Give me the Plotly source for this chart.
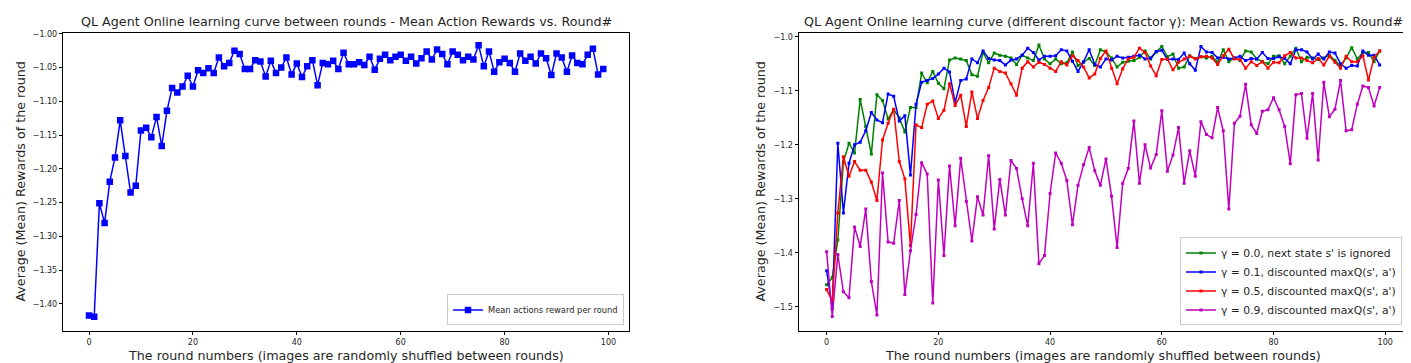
import plotly.graph_objects as go

rounds = list(range(100))

mean_reward = [
    -1.417, -1.419, -1.251, -1.280, -1.219, -1.183, -1.128, -1.181, -1.235, -1.225,
    -1.143, -1.139, -1.153, -1.123, -1.166, -1.114, -1.080, -1.087, -1.078, -1.062,
    -1.078, -1.054, -1.058, -1.051, -1.058, -1.035, -1.048, -1.043, -1.025, -1.030,
    -1.052, -1.052, -1.039, -1.041, -1.063, -1.040, -1.058, -1.050, -1.035, -1.060,
    -1.044, -1.064, -1.048, -1.039, -1.076, -1.043, -1.045, -1.040, -1.052, -1.028,
    -1.045, -1.045, -1.042, -1.046, -1.034, -1.053, -1.037, -1.031, -1.039, -1.034,
    -1.031, -1.040, -1.034, -1.044, -1.036, -1.026, -1.038, -1.023, -1.030, -1.045,
    -1.026, -1.031, -1.039, -1.034, -1.038, -1.017, -1.048, -1.026, -1.056, -1.042,
    -1.037, -1.043, -1.056, -1.029, -1.040, -1.034, -1.044, -1.029, -1.036, -1.061,
    -1.029, -1.035, -1.056, -1.032, -1.043, -1.045, -1.031, -1.022, -1.060, -1.052]

gamma_00 = [
    -1.459, -1.446, -1.376, -1.232, -1.197, -1.215, -1.116, -1.166, -1.217, -1.107,
    -1.118, -1.152, -1.135, -1.150, -1.176, -1.131, -1.131, -1.067, -1.085, -1.064,
    -1.086, -1.096, -1.043, -1.039, -1.041, -1.044, -1.070, -1.073, -1.029, -1.048,
    -1.030, -1.034, -1.036, -1.039, -1.051, -1.034, -1.039, -1.044, -1.015, -1.041,
    -1.050, -1.041, -1.050, -1.048, -1.028, -1.053, -1.047, -1.040, -1.053, -1.024,
    -1.028, -1.039, -1.056, -1.047, -1.045, -1.044, -1.038, -1.026, -1.041, -1.028,
    -1.018, -1.037, -1.032, -1.058, -1.056, -1.035, -1.040, -1.037, -1.039, -1.036,
    -1.047, -1.024, -1.046, -1.039, -1.044, -1.026, -1.028, -1.041, -1.046, -1.050,
    -1.036, -1.035, -1.050, -1.036, -1.021, -1.046, -1.038, -1.039, -1.042, -1.039,
    -1.034, -1.044, -1.054, -1.039, -1.020, -1.041, -1.029, -1.029, -1.046, -1.026]

gamma_01 = [
    -1.433, -1.503, -1.197, -1.326, -1.234, -1.200, -1.195, -1.174, -1.140, -1.154,
    -1.159, -1.106, -1.110, -1.156, -1.146, -1.256, -1.125, -1.084, -1.081, -1.077,
    -1.069, -1.058, -1.065, -1.122, -1.081, -1.078, -1.041, -1.048, -1.026, -1.040,
    -1.043, -1.044, -1.052, -1.043, -1.041, -1.034, -1.021, -1.029, -1.043, -1.036,
    -1.036, -1.035, -1.024, -1.026, -1.045, -1.064, -1.046, -1.024, -1.051, -1.056,
    -1.041, -1.043, -1.036, -1.039, -1.038, -1.036, -1.034, -1.041, -1.039, -1.027,
    -1.025, -1.042, -1.041, -1.042, -1.030, -1.050, -1.062, -1.018, -1.028, -1.029,
    -1.039, -1.038, -1.041, -1.039, -1.036, -1.044, -1.040, -1.041, -1.029, -1.040,
    -1.040, -1.037, -1.040, -1.050, -1.024, -1.024, -1.028, -1.041, -1.032, -1.041,
    -1.028, -1.030, -1.050, -1.058, -1.053, -1.054, -1.026, -1.034, -1.034, -1.052]

gamma_05 = [
    -1.468, -1.489, -1.326, -1.222, -1.258, -1.231, -1.247, -1.247, -1.269, -1.303,
    -1.191, -1.160, -1.134, -1.231, -1.263, -1.387, -1.163, -1.168, -1.125, -1.119,
    -1.151, -1.136, -1.087, -1.127, -1.108, -1.166, -1.102, -1.151, -1.118, -1.094,
    -1.058, -1.064, -1.067, -1.087, -1.108, -1.058, -1.046, -1.056, -1.047, -1.051,
    -1.058, -1.064, -1.046, -1.052, -1.035, -1.044, -1.056, -1.076, -1.069, -1.040,
    -1.026, -1.058, -1.087, -1.059, -1.041, -1.038, -1.021, -1.029, -1.054, -1.072,
    -1.042, -1.041, -1.061, -1.047, -1.041, -1.036, -1.041, -1.037, -1.036, -1.039,
    -1.051, -1.035, -1.023, -1.041, -1.042, -1.058, -1.046, -1.053, -1.046, -1.058,
    -1.047, -1.048, -1.035, -1.029, -1.039, -1.039, -1.044, -1.048, -1.040, -1.052,
    -1.036, -1.047, -1.058, -1.036, -1.046, -1.046, -1.035, -1.080, -1.038, -1.026]

gamma_09 = [
    -1.398, -1.518, -1.403, -1.472, -1.483, -1.352, -1.388, -1.319, -1.453, -1.515,
    -1.252, -1.380, -1.382, -1.303, -1.477, -1.396, -1.329, -1.233, -1.254, -1.493,
    -1.265, -1.405, -1.239, -1.350, -1.225, -1.305, -1.378, -1.296, -1.330, -1.220,
    -1.356, -1.264, -1.330, -1.229, -1.244, -1.300, -1.350, -1.234, -1.420, -1.405,
    -1.290, -1.215, -1.234, -1.266, -1.348, -1.275, -1.237, -1.205, -1.248, -1.275,
    -1.226, -1.295, -1.390, -1.271, -1.244, -1.156, -1.271, -1.200, -1.243, -1.218,
    -1.137, -1.249, -1.219, -1.168, -1.271, -1.211, -1.258, -1.157, -1.181, -1.187,
    -1.131, -1.174, -1.319, -1.160, -1.147, -1.088, -1.163, -1.179, -1.138, -1.135,
    -1.113, -1.135, -1.166, -1.235, -1.107, -1.105, -1.188, -1.105, -1.228, -1.084,
    -1.148, -1.134, -1.081, -1.174, -1.172, -1.125, -1.091, -1.094, -1.128, -1.094]

series_names = [
    "\u03b3 = 0.0, next state s' is ignored",
    "\u03b3 = 0.1, discounted maxQ(s', a')",
    "\u03b3 = 0.5, discounted maxQ(s', a')",
    "\u03b3 = 0.9, discounted maxQ(s', a')",
]
series_values = [gamma_00, gamma_01, gamma_05, gamma_09]
series_colors = ["#008000", "#0000ff", "#ff0000", "#bf00bf"]

left_title = "QL Agent Online learning curve between rounds - Mean Action Rewards vs. Round#"
right_title = "QL Agent Online learning curve (different discount factor \u03b3): Mean Action Rewards vs. Round#"
x_label = "The round numbers (images are randomly shuffled between rounds)"
y_label = "Average (Mean) Rewards of the round"

W, H = 1411, 363
FONT = "DejaVu Sans"
TXT = "#262626"
LABEL_SIZE = 12.7

fig = go.Figure()
fig.add_trace(go.Scatter(
    x=rounds, y=mean_reward, mode="lines+markers", name="Mean actions reward per round",
    line=dict(color="#0000ff", width=1.5),
    marker=dict(symbol="square", size=6.5, color="#0000ff"),
    xaxis="x", yaxis="y", legend="legend"))

for name, vals, col in zip(series_names, series_values, series_colors):
    fig.add_trace(go.Scatter(
        x=rounds, y=vals, mode="lines+markers", name=name,
        line=dict(color=col, width=1.5),
        marker=dict(symbol="square", size=3, color=col),
        xaxis="x2", yaxis="y2", legend="legend2"))

ydom = [1 - 322.3 / H, 1 - 21.7 / H]
axis_common = dict(showline=True, linecolor="black", linewidth=1, mirror=True,
                   showgrid=False, zeroline=False, ticks="outside", ticklen=3.5,
                   tickwidth=0.8, tickcolor="black",
                   tickfont=dict(family=FONT, size=8, color=TXT))

fig.update_layout(
    width=W, height=H, margin=dict(l=0, r=0, t=0, b=0),
    paper_bgcolor="white", plot_bgcolor="white",
    font=dict(family=FONT, color=TXT),
    xaxis=dict(domain=[55.3 / W, 621 / W], range=[-4.95, 103.95],
               tickvals=[0, 20, 40, 60, 80, 100], anchor="y", **axis_common),
    yaxis=dict(domain=ydom, range=[-1.4396, -0.998],
               tickvals=[-1.40, -1.35, -1.30, -1.25, -1.20, -1.15, -1.10, -1.05, -1.00],
               tickformat=".2f", anchor="x", **axis_common),
    xaxis2=dict(domain=[791 / W, 1399.3 / W], range=[-4.95, 103.95],
                tickvals=[0, 20, 40, 60, 80, 100], anchor="y2", **axis_common),
    yaxis2=dict(domain=ydom, range=[-1.544, -0.992],
                tickvals=[-1.5, -1.4, -1.3, -1.2, -1.1, -1.0],
                tickformat=".1f", anchor="x2", **axis_common),
    legend=dict(x=616 / W, y=1 - 317 / H, xanchor="right", yanchor="bottom",
                bgcolor="rgba(255,255,255,0.8)", bordercolor="#cccccc", borderwidth=1,
                font=dict(family=FONT, size=8.3, color=TXT), itemwidth=30,
                tracegroupgap=0),
    legend2=dict(x=1394 / W, y=1 - 317 / H, xanchor="right", yanchor="bottom",
                 bgcolor="rgba(255,255,255,0.8)", bordercolor="#cccccc", borderwidth=1,
                 font=dict(family=FONT, size=10.8, color=TXT), itemwidth=30,
                 tracegroupgap=0),
    showlegend=True,
)

annos = [
    dict(text=left_title, x=338 / W, y=1 - 11 / H, angle=0),
    dict(text=right_title, x=1095 / W, y=1 - 11 / H, angle=0),
    dict(text=x_label, x=338 / W, y=1 - 347 / H, angle=0),
    dict(text=x_label, x=1095 / W, y=1 - 347 / H, angle=0),
    dict(text=y_label, x=13 / W, y=1 - 172 / H, angle=-90),
    dict(text=y_label, x=753 / W, y=1 - 172 / H, angle=-90),
]
for a in annos:
    fig.add_annotation(text=a["text"], x=a["x"], y=a["y"], xref="paper", yref="paper",
                       xanchor="center", yanchor="middle", showarrow=False,
                       textangle=a["angle"],
                       font=dict(family=FONT, size=LABEL_SIZE, color=TXT))

fig.write_html("out.html")
